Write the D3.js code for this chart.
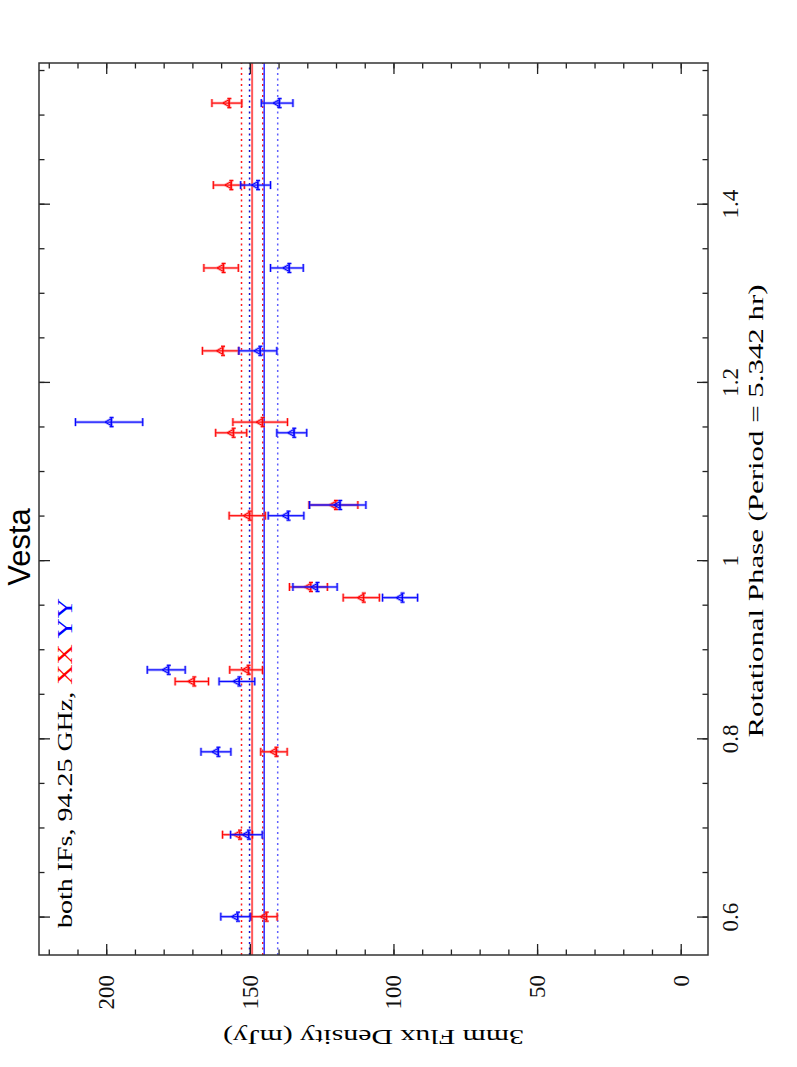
<!DOCTYPE html>
<html>
<head>
<meta charset="utf-8">
<script src="https://cdn.jsdelivr.net/npm/d3@7"></script>
<style>
  body { margin: 0; background: #fff; }
  text { font-family: "Liberation Serif", serif; }
</style>
</head>
<body>
<div id="wrapper"></div>
<script>
/*global d3*/

// data (phase, flux in mJy, 1-sigma error)
const phase = [1.514, 1.422, 1.329, 1.236, 1.156, 1.144, 1.063, 1.051, 0.971, 0.959, 0.878, 0.865, 0.786, 0.693, 0.601]
const fluxXX = [158.0, 157.3, 160.0, 160.2, 146.4, 156.5, 120.9, 150.9, 129.6, 111.2, 151.3, 170.2, 141.6, 154.3, 145.0]
const errXX = [5.2, 5.4, 6.0, 6.3, 9.5, 5.4, 8.5, 6.3, 6.6, 6.3, 5.7, 5.8, 4.6, 5.2, 4.5]
const fluxYY = [140.5, 148.0, 137.1, 147.2, 199.0, 135.4, 119.4, 137.4, 127.3, 97.7, 179.1, 154.5, 161.8, 151.2, 155.0]
const errYY = [5.5, 5.2, 5.7, 6.6, 11.7, 5.2, 9.8, 6.2, 7.7, 6.1, 6.6, 6.2, 5.2, 5.5, 5.1]

// mean and +/- spread lines
const meanXX = 149.2, bandXX = [145.5, 152.9]
const meanYY = 145.0, bandYY = [140.3, 150.1]

const phaseTicks = [0.6, 0.8, 1.0, 1.2, 1.4]
const fluxTicks = [0, 50, 100, 150, 200]

const phaseDomain = [0.558, 1.559]
const fluxDomain = [-9.5, 223.4]

function drawPlot() {

    // the plot is drawn landscape then turned a quarter to the left
    const dims = { width: 892, height: 669, left: 39, bottom: 955 }

    const svg = d3.select("#wrapper")
        .append("svg")
        .attr("width", 797)
        .attr("height", 1067)

    const bounds = svg.append("g")
        .attr("transform", `translate(${dims.left},${dims.bottom}) rotate(-90)`)

    const xScale = d3.scaleLinear()
        .domain(phaseDomain)
        .range([0, dims.width])

    const yScale = d3.scaleLinear()
        .domain(fluxDomain)
        .range([dims.height, 0])

    // reference lines
    const hline = (v, color, w, dash, op) => bounds.append("line")
        .attr("x1", 0).attr("x2", dims.width)
        .attr("y1", yScale(v)).attr("y2", yScale(v))
        .attr("stroke", color)
        .attr("stroke-width", w)
        .attr("stroke-dasharray", dash)
        .attr("opacity", op)

    hline(bandXX[0], "#ff1a1a", 1.5, "2,3.5", 1)
    hline(bandXX[1], "#ff1a1a", 1.5, "2,3.5", 1)
    hline(bandYY[1], "#1010d0", 1.5, "2,3.5", 1)
    hline(bandYY[0], "#6060ff", 1.5, "2,3.5", 1)
    hline(meanXX, "#ff5a5a", 2, null, 1)
    hline(meanYY, "#3a3aff", 1.6, null, 1)

    // error bars and markers
    function drawSeries(flux, err, color, light) {
        const pts = phase.map((p, i) => ({ p: p, f: flux[i], e: err[i] }))
        const g = bounds.append("g")

        const layer = (stroke, width, op) => {
            const s = g.append("g")
                .attr("stroke", stroke)
                .attr("stroke-width", width)
                .attr("fill", "none")
                .attr("opacity", op)
            const one = s.selectAll("g").data(pts).join("g")
            one.append("line")
                .attr("x1", d => xScale(d.p)).attr("x2", d => xScale(d.p))
                .attr("y1", d => yScale(d.f - d.e)).attr("y2", d => yScale(d.f + d.e))
            one.append("line")
                .attr("x1", d => xScale(d.p) - 4).attr("x2", d => xScale(d.p) + 4)
                .attr("y1", d => yScale(d.f - d.e)).attr("y2", d => yScale(d.f - d.e))
            one.append("line")
                .attr("x1", d => xScale(d.p) - 4).attr("x2", d => xScale(d.p) + 4)
                .attr("y1", d => yScale(d.f + d.e)).attr("y2", d => yScale(d.f + d.e))
            one.append("path")
                .attr("d", d => {
                    const cx = xScale(d.p), cy = yScale(d.f)
                    return `M${cx},${cy - 4}L${cx + 3.3},${cy + 2}L${cx - 3.3},${cy + 2}Z` +
                        `M${cx - 4.5},${cy + 2.5}L${cx + 4.5},${cy + 2.5}` +
                        `M${cx - 4.5},${cy + 0.5}L${cx - 4.5},${cy + 4.5}` +
                        `M${cx + 4.5},${cy + 0.5}L${cx + 4.5},${cy + 4.5}`
                })
        }
        layer(light, 2.6, 0.55)
        layer(color, 1, 1)
    }

    drawSeries(fluxXX, errXX, "#ff0000", "#ff5050")
    drawSeries(fluxYY, errYY, "#0000ff", "#5050ff")

    // axes, ticks pointing inwards on all four sides
    const fmt = d => String(+d.toFixed(1))
    const minorPhase = d3.range(12, 32).map(i => i * 0.05)
    const minorFlux = d3.range(0, 23).map(i => i * 10)

    const axisG = (gen, tr) => bounds.append("g")
        .attr("transform", tr)
        .call(gen)
        .call(g => g.select(".domain").remove())
        .call(g => g.selectAll("line").attr("stroke", "#222").attr("stroke-width", 1.3))

    axisG(d3.axisBottom(xScale).tickValues(minorPhase).tickSize(-5.5).tickFormat(""),
        `translate(0,${dims.height})`)
    axisG(d3.axisTop(xScale).tickValues(minorPhase).tickSize(-5.5).tickFormat(""), null)
    axisG(d3.axisLeft(yScale).tickValues(minorFlux).tickSize(-5.5).tickFormat(""), null)
    axisG(d3.axisRight(yScale).tickValues(minorFlux).tickSize(-5.5).tickFormat(""),
        `translate(${dims.width},0)`)

    const xAxis = axisG(d3.axisBottom(xScale).tickValues(phaseTicks).tickSize(-11)
        .tickPadding(14).tickFormat(fmt), `translate(0,${dims.height})`)
    axisG(d3.axisTop(xScale).tickValues(phaseTicks).tickSize(-11).tickFormat(""), null)
    const yAxis = axisG(d3.axisLeft(yScale).tickValues(fluxTicks).tickSize(-11)
        .tickPadding(20).tickFormat(fmt), null)
    axisG(d3.axisRight(yScale).tickValues(fluxTicks).tickSize(-11).tickFormat(""),
        `translate(${dims.width},0)`)

    xAxis.selectAll("text")
        .style("font-family", "Liberation Serif")
        .style("font-size", "23px")
        .attr("fill", "#111")
    yAxis.selectAll("text")
        .style("font-family", "Liberation Serif")
        .style("font-size", "23px")
        .attr("fill", "#111")

    // frame
    bounds.append("rect")
        .attr("width", dims.width)
        .attr("height", dims.height)
        .attr("fill", "none")
        .attr("stroke", "#333")
        .attr("stroke-width", 1.5)

    // labels
    bounds.append("text")
        .attr("x", 408)
        .attr("y", -9)
        .attr("text-anchor", "middle")
        .style("font-family", "Liberation Sans")
        .style("font-size", "31px")
        .text("Vesta")

    const sub = bounds.append("text")
        .attr("x", 27)
        .attr("y", 33)
        .style("font-size", "22px")
        .attr("textLength", 330)
        .attr("lengthAdjust", "spacingAndGlyphs")
    sub.append("tspan").text("both IFs, 94.25 GHz, ")
    sub.append("tspan").attr("fill", "#ff0000").text("XX")
    sub.append("tspan").text(" ")
    sub.append("tspan").attr("fill", "#0000ff").text("YY")

    bounds.append("text")
        .attr("x", 444)
        .attr("y", 724)
        .attr("text-anchor", "middle")
        .style("font-size", "22px")
        .attr("textLength", 453)
        .attr("lengthAdjust", "spacingAndGlyphs")
        .text("Rotational Phase (Period = 5.342 hr)")

    bounds.append("text")
        .attr("transform", `translate(-75,${dims.height / 2}) rotate(-90)`)
        .attr("text-anchor", "middle")
        .style("font-size", "22px")
        .attr("textLength", 301)
        .attr("lengthAdjust", "spacingAndGlyphs")
        .text("3mm Flux Density (mJy)")
}

drawPlot()
</script>
</body>
</html>
